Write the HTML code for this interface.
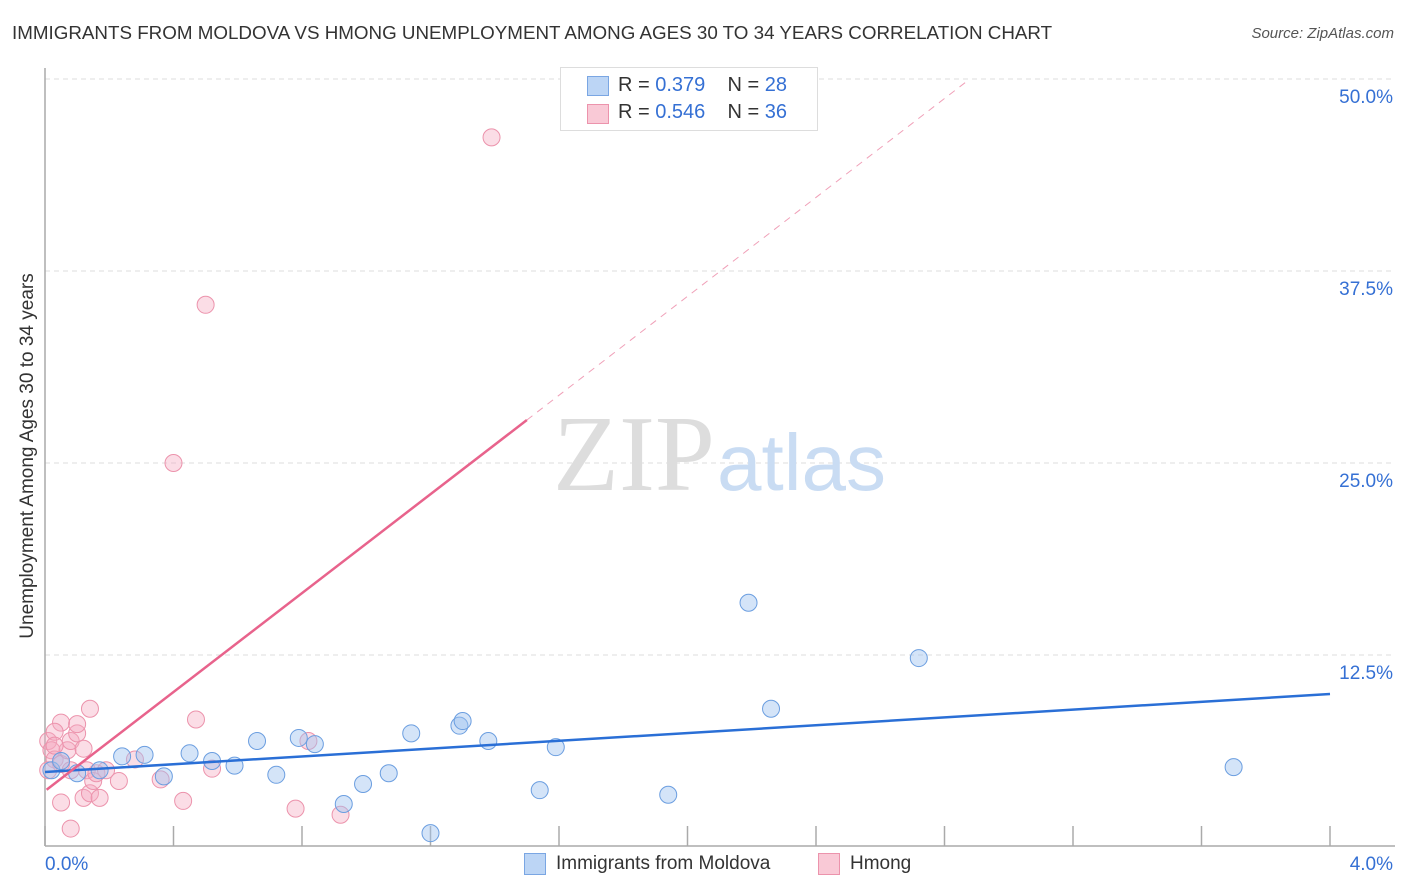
<!DOCTYPE html>
<html><head><meta charset="utf-8"><style>
body{margin:0;background:#fff;font-family:"Liberation Sans",sans-serif;}
#wrap{position:relative;width:1406px;height:892px;overflow:hidden;}
.t{position:absolute;white-space:nowrap;}
</style></head><body>
<div id="wrap">
<div class="t" style="left:12px;top:22px;font-size:18.8px;color:#333;">IMMIGRANTS FROM MOLDOVA VS HMONG UNEMPLOYMENT AMONG AGES 30 TO 34 YEARS CORRELATION CHART</div>
<div class="t" style="right:12px;top:25px;font-size:15px;color:#555;font-style:italic;">Source: ZipAtlas.com</div>
<div class="t" style="left:28px;top:456px;font-size:19px;color:#333;transform:translate(-50%,-50%) rotate(-90deg);">Unemployment Among Ages 30 to 34 years</div>
<svg id="svg" width="1406" height="892" style="position:absolute;left:0;top:0"></svg>
<div style="position:absolute;left:560px;top:67px;width:256px;height:62px;border:1px solid #ddd;background:#fff;">
 <div style="position:absolute;left:26px;top:8px;width:20px;height:18px;background:#bcd5f5;border:1px solid #7aa6e3;"></div>
 <div class="t" style="left:57px;top:6px;font-size:20px;color:#333;">R = <span style="color:#3570d4">0.379</span>&nbsp;&nbsp;&nbsp; N = <span style="color:#3570d4">28</span></div>
 <div style="position:absolute;left:26px;top:36px;width:20px;height:18px;background:#f9c9d6;border:1px solid #ec93ac;"></div>
 <div class="t" style="left:57px;top:33px;font-size:20px;color:#333;">R = <span style="color:#3570d4">0.546</span>&nbsp;&nbsp;&nbsp; N = <span style="color:#3570d4">36</span></div>
</div>
<div style="position:absolute;left:524px;top:853px;">
 <div style="position:absolute;left:0;top:0;width:20px;height:20px;background:#bcd5f5;border:1px solid #7aa6e3;"></div>
 <div class="t" style="left:32px;top:0;font-size:19px;color:#333;">Immigrants from Moldova</div>
</div>
<div style="position:absolute;left:818px;top:853px;">
 <div style="position:absolute;left:0;top:0;width:20px;height:20px;background:#f9c9d6;border:1px solid #ec93ac;"></div>
 <div class="t" style="left:32px;top:0;font-size:19px;color:#333;">Hmong</div>
</div>
</div>
<script>
const xTicks=[0,0.4,0.8,1.2,1.6,2.0,2.4,2.8,3.2,3.6,4.0];
const yTicks=[12.5,25,37.5,50];
const yTickLabels=["12.5%","25.0%","37.5%","50.0%"];
const xEndLabels=["0.0%","4.0%"];
const moldovaX=[0.02,0.05,0.10,0.17,0.24,0.31,0.37,0.45,0.52,0.59,0.66,0.72,0.79,0.84,0.93,0.99,1.07,1.14,1.29,1.30,1.38,1.54,1.59,1.94,1.20,2.19,2.26,2.72,3.70];
const moldovaY=[5.0,5.6,4.8,5.0,5.9,6.0,4.6,6.1,5.6,5.3,6.9,4.7,7.1,6.7,2.8,4.1,4.8,7.4,7.9,8.2,6.9,3.7,6.5,3.4,0.9,15.9,9.0,12.3,5.2];
const hmongX=[0.01,0.02,0.03,0.05,0.05,0.07,0.08,0.08,0.10,0.10,0.12,0.12,0.13,0.14,0.14,0.15,0.16,0.17,0.19,0.23,0.28,0.36,0.40,0.43,0.47,0.50,0.52,0.78,0.82,0.92,1.39,0.05,0.03,0.08,0.01,0.03];
const hmongY=[6.9,6.3,5.7,5.4,8.1,6.3,6.9,1.2,7.4,8.0,3.2,6.4,5.0,9.0,3.5,4.3,4.8,3.2,5.0,4.3,5.7,4.4,25.0,3.0,8.3,35.3,5.1,2.5,6.9,2.1,46.2,2.9,7.5,5.0,5.0,6.6];
const moldovaTrend=[4.88,9.96];
const hmongTrend=[3.65,16.1];
const X=v=>45+v*321.25, Y=v=>847-v*15.36;
const svg=document.getElementById('svg'),NS='http://www.w3.org/2000/svg';
function mk(tag,a,name,p){const e=document.createElementNS(NS,tag);for(const k in a)e.setAttribute(k,a[k]);


(p||svg).appendChild(e);return e;}
yTicks.forEach((v,i)=>{mk('line',{x1:45,x2:1395,y1:Y(v),y2:Y(v),stroke:'#ddd','stroke-dasharray':'5,4'},'y-gridline');
const t=mk('text',{x:1393,y:Y(v)+24,'text-anchor':'end','font-size':19,fill:'#3570d4','font-family':'Liberation Sans'},'y-tick-label');t.textContent=yTickLabels[i];});
mk('line',{x1:45,x2:45,y1:68,y2:846,stroke:'#aaa','stroke-width':1.5},'y-axis-line');
mk('line',{x1:45,x2:1395,y1:846,y2:846,stroke:'#aaa','stroke-width':1.5},'x-axis-line');
xTicks.forEach(v=>mk('line',{x1:X(v),x2:X(v),y1:826,y2:846,stroke:'#aaa','stroke-width':1.5},'x-tick'));
let t=mk('text',{x:45,y:870,'font-size':19,fill:'#3570d4','font-family':'Liberation Sans'},'x-min-label');t.textContent=xEndLabels[0];
t=mk('text',{x:1393,y:870,'text-anchor':'end','font-size':19,fill:'#3570d4','font-family':'Liberation Sans'},'x-max-label');t.textContent=xEndLabels[1];
t=mk('text',{x:553,y:490,'font-size':108,fill:'#ddd','font-family':'Liberation Serif'},'watermark-zip');t.textContent='ZIP';
t=mk('text',{x:717,y:490,'font-size':80,fill:'#c9dcf3','font-family':'Liberation Sans'},'watermark-atlas');t.textContent='atlas';
hmongX.forEach((x,i)=>mk('circle',{cx:X(x),cy:Y(hmongY[i]),r:8.5,fill:'rgba(246,170,192,0.4)',stroke:'#ec93ac','stroke-width':1},'hmong-point'));
moldovaX.forEach((x,i)=>mk('circle',{cx:X(x),cy:Y(moldovaY[i]),r:8.5,fill:'rgba(160,195,240,0.45)',stroke:'#6b9ee0','stroke-width':1},'moldova-point'));
mk('line',{x1:X(0),y1:Y(moldovaTrend[0]),x2:X(4),y2:Y(moldovaTrend[1]),stroke:'#2a6fd6','stroke-width':2.5},'moldova-trendline');
const hy=x=>hmongTrend[0]+hmongTrend[1]*x, xs=1.5, xe=(50-hmongTrend[0])/hmongTrend[1];
mk('line',{x1:X(0.005),y1:Y(hy(0.005)),x2:X(xs),y2:Y(hy(xs)),stroke:'#e8638c','stroke-width':2.5},'hmong-trendline');
mk('line',{x1:X(xs),y1:Y(hy(xs)),x2:X(xe),y2:Y(50),stroke:'#f0a0b8','stroke-width':1,'stroke-dasharray':'7,6'},'hmong-trendline-extension');
</script>
</body></html>
